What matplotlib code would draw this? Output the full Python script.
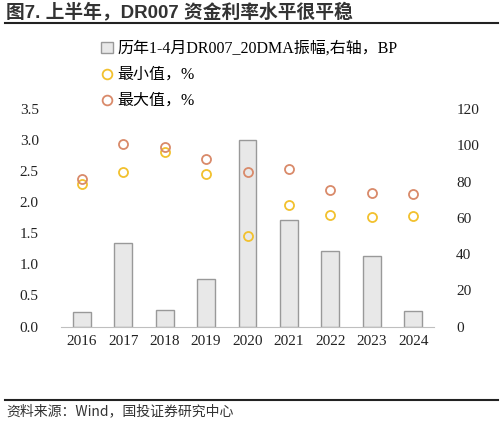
import matplotlib
matplotlib.use("Agg")
import matplotlib.pyplot as plt
import numpy as np
from matplotlib.lines import Line2D
from matplotlib.patches import Patch

years = ["2016", "2017", "2018", "2019", "2020", "2021", "2022", "2023", "2024"]
amplitude_bp = [8, 46, 9, 26, 103, 59, 41.5, 38.7, 8.8]
min_rate = [2.30, 2.48, 2.81, 2.45, 1.45, 1.95, 1.79, 1.76, 1.78]
max_rate = [2.37, 2.94, 2.89, 2.69, 2.48, 2.54, 2.20, 2.15, 2.14]

labels = ["历年1-4月DR007_20DMA振幅,右轴，BP", "最小值，%", "最大值，%"]
title = "图7. 上半年，DR007 资金利率水平很平稳"
source = "资料来源：Wind，国投证券研究中心"

fam = ["Liberation Serif", "Noto Sans CJK SC"]
plt.rcParams["font.family"] = fam

bar_face = "#E8E8E8"
bar_edge = "#999999"
c_min = "#F2C12E"
c_max = "#D98A6A"

fig = plt.figure(figsize=(5.0, 4.23), dpi=100)
ax = fig.add_axes([0.122, 0.228, 0.746, 0.514])
ax2 = ax.twinx()

x = np.arange(len(years))
ax2.bar(x, amplitude_bp, width=0.43, color=bar_face, edgecolor=bar_edge, linewidth=1.0, zorder=1)
ax.plot(x, min_rate, "o", markersize=6.5, markerfacecolor="none", markeredgecolor=c_min,
        markeredgewidth=1.3, zorder=3)
ax.plot(x, max_rate, "o", markersize=6.5, markerfacecolor="none", markeredgecolor=c_max,
        markeredgewidth=1.3, zorder=3)

# circles on top of bars
ax.set_zorder(ax2.get_zorder() + 1)
ax.patch.set_visible(False)

ax.set_xlim(-0.5, len(years) - 0.5)
ax.set_ylim(0, 3.5)
ax.set_yticks(np.arange(0, 3.51, 0.5))
ax.set_yticklabels([f"{v:.1f}" for v in np.arange(0, 3.51, 0.5)])
ax2.set_ylim(0, 120)
ax2.set_yticks(range(0, 121, 20))
ax.set_xticks(x)
ax.set_xticklabels(years)

for a in (ax, ax2):
    for s in ("top", "left", "right"):
        a.spines[s].set_visible(False)
    a.tick_params(length=0, labelsize=11, colors="#222222")
ax.spines["bottom"].set_color("#BFBFBF")
ax2.spines["bottom"].set_visible(False)
ax.tick_params(axis="y", pad=16)
ax.tick_params(axis="x", pad=6)
ax2.tick_params(axis="y", pad=16)

handles = [
    Patch(facecolor=bar_face, edgecolor=bar_edge),
    Line2D([], [], marker="o", linestyle="none", markersize=7, markerfacecolor="none",
           markeredgecolor=c_min, markeredgewidth=1.3),
    Line2D([], [], marker="o", linestyle="none", markersize=7, markerfacecolor="none",
           markeredgecolor=c_max, markeredgewidth=1.3),
]
fig.legend(handles, labels, loc="upper left", bbox_to_anchor=(0.19, 0.918), frameon=False,
           fontsize=11.5, handlelength=0.7, handleheight=0.6, handletextpad=0.3,
           labelspacing=0.62, borderaxespad=0)

fig.text(0.012, 0.972, title, fontsize=13.5, fontweight="bold", color="#333333",
         va="center", ha="left", family=["Liberation Sans", "Noto Sans CJK SC"])
fig.add_artist(Line2D([0.01, 0.995], [0.946, 0.946], color="#222222", linewidth=1.5))
fig.add_artist(Line2D([0.01, 0.995], [0.054, 0.054], color="#222222", linewidth=1.5))
fig.text(0.012, 0.028, source, fontsize=10, color="#333333", va="center", ha="left",
         style="italic", family=["Noto Sans CJK SC", "DejaVu Sans"])

fig.savefig("out.png", dpi=100)
